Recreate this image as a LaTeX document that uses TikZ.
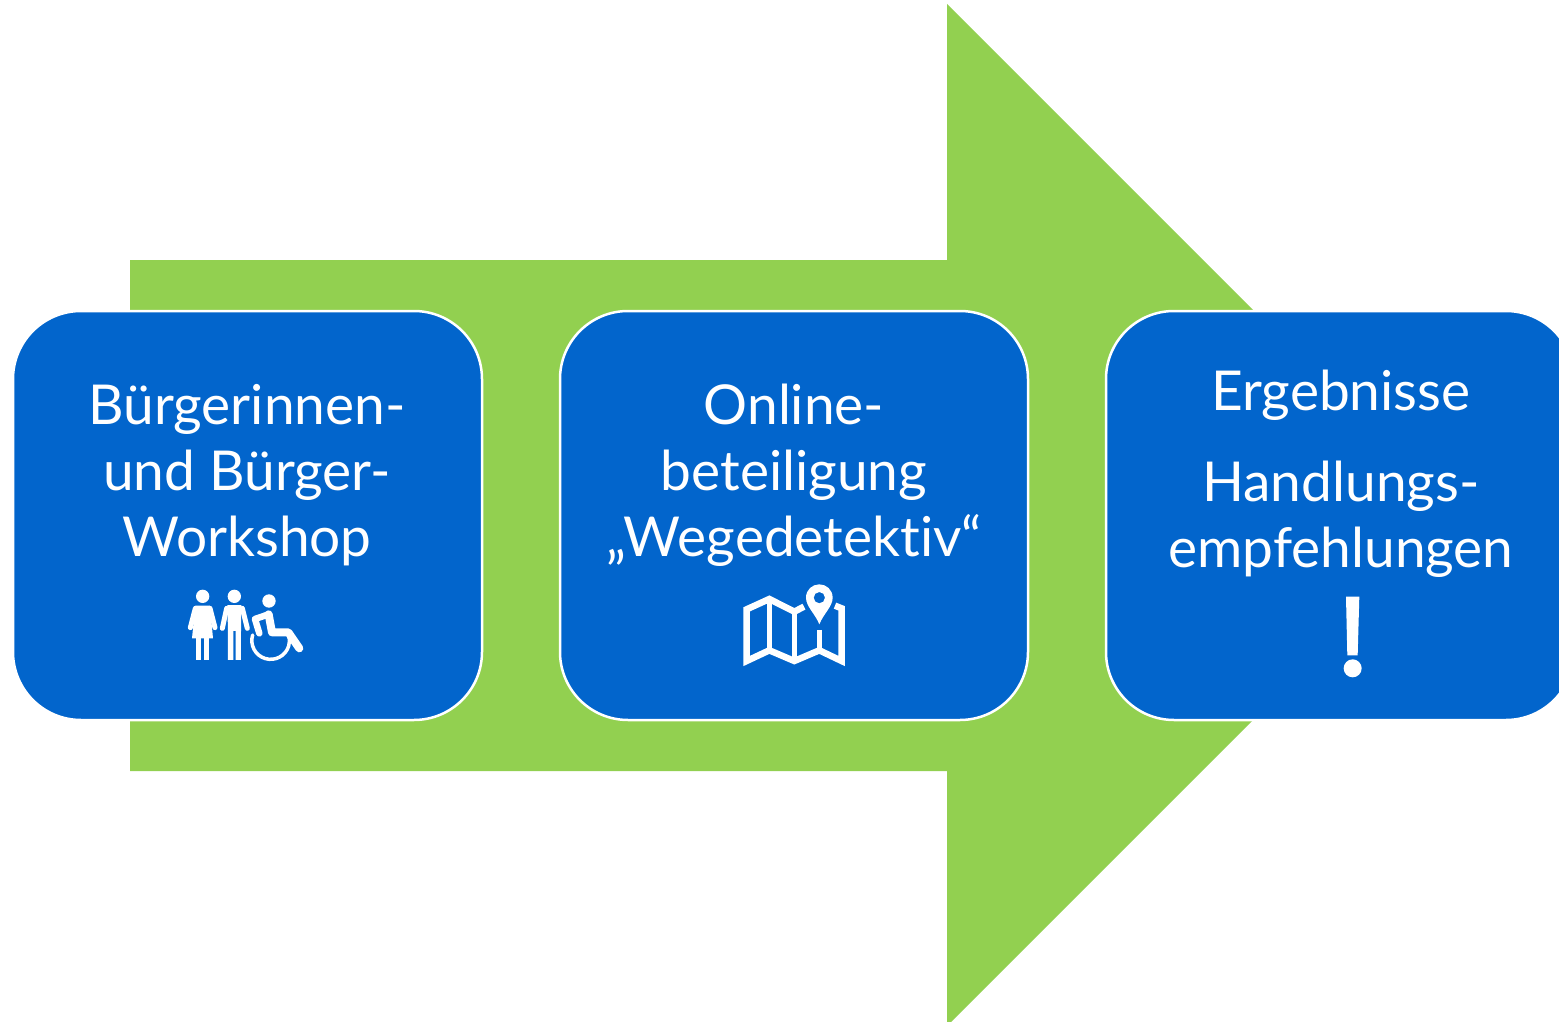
\documentclass[tikz,border=0pt]{standalone}
\usepackage{fontspec}
\setmainfont{Lato}[Ligatures=NoCommon]
\definecolor{arrowgreen}{HTML}{92D050}
\definecolor{boxblue}{HTML}{0265CC}
\tikzset{
  x=1pt,y=-1pt,
  stagebox/.style={draw=white,line width=2.5pt,fill=boxblue,rounded corners=68pt},
  stagetext/.style={text=white,align=center,inner sep=0pt,font=\fontsize{55}{66}\selectfont},
  iconline/.style={draw=white,line width=5pt,line cap=round,line join=round},
  iconthin/.style={draw=white,line width=6.5pt,line cap=butt,line join=miter},
  iconfill/.style={fill=white,draw=none},
}
\begin{document}
\begin{tikzpicture}
\useasboundingbox (0,0) rectangle (1559,1022);
\clip (0,0) rectangle (1559,1022);
\fill[white] (0,0) rectangle (1559,1022);
\fill[arrowgreen] (130,260) -- (947,260) -- (947,4) -- (1458,515) -- (947,1026) -- (947,771) -- (130,771) -- cycle;
\draw[stagebox] (13,311) rectangle (482,720);
\draw[stagebox] (560,311) rectangle (1028,720);
\draw[stagebox] (1106,311) rectangle (1574,720);
\node[stagetext] (workshop) at (247,475) {Bürgerinnen-\\und Bürger-\\Workshop};
\node[stagetext] (online) at (794,475) {Online-\\beteiligung\\„Wegedetektiv“};
\node[stagetext] (ergebnisse) at (1341,395) {Ergebnisse};
\node[stagetext] (handlung) at (1341,519) {Handlungs-\\empfehlungen};
% people icon
\begin{scope}[shift={(170,575)},x=0.3333pt,y=-0.3333pt]
  \fill[iconfill] (98,64) circle (20);
  \fill[iconfill] (193,64) circle (20);
  \fill[iconfill] (297,78) circle (20);
  \fill[iconfill] (76,92) -- (120,92) -- (129,190) -- (66,190) -- cycle;
  \fill[iconfill] (79,188) rectangle (94,255);
  \fill[iconfill] (102,188) rectangle (118,255);
  \draw[iconline] (76,100) -- (61,158);
  \draw[iconline] (120,100) -- (135,158);
  \fill[iconfill] (172,90) -- (214,90) -- (213,170) -- (213,255) -- (197,255) -- (197,168) -- (190,168) -- (190,255) -- (174,255) -- (174,170) -- cycle;
  \draw[iconline] (170,100) -- (157,160);
  \draw[iconline] (217,100) -- (232,160);
  \draw[iconline,line width=8pt] (296,118) -- (306,172) -- (355,172) -- (388,220);
  \draw[iconline,line width=6.5pt] (296,118) -- (255,132) -- (268,175);
  \draw[iconline,line width=3.5pt] (248,180) arc[start angle=197,end angle=-15,radius=56.5];
\end{scope}
% map icon
\begin{scope}[shift={(725,575)},x=0.3333pt,y=-0.3333pt]
  \draw[iconthin] (237,95) -- (208,110) -- (133,72) -- (65,103) -- (65,258) -- (133,226) -- (208,258) -- (283,226) -- (350,258) -- (350,100) -- (330,92);
  \draw[iconthin,line width=5pt] (133,72) -- (133,226);
  \draw[iconthin,line width=5pt] (208,110) -- (208,258);
  \draw[iconthin,line width=5pt] (283,165) -- (283,226);
  \fill[iconfill,even odd rule] (283,148) .. controls (270,115) and (243,95) .. (243,68) .. controls (243,44) and (262,28) .. (283,28) .. controls (304,28) and (323,44) .. (323,68) .. controls (323,95) and (296,115) .. (283,148) -- cycle (283,68) circle (17);
\end{scope}
% exclamation mark
\begin{scope}[shift={(1300,580)},x=0.3333pt,y=-0.3333pt]
  \fill[iconfill] (138,50) -- (178,50) -- (173,226) -- (142,226) -- cycle;
  \fill[iconfill] (158,265) circle (27);
\end{scope}
\end{tikzpicture}
\end{document}
